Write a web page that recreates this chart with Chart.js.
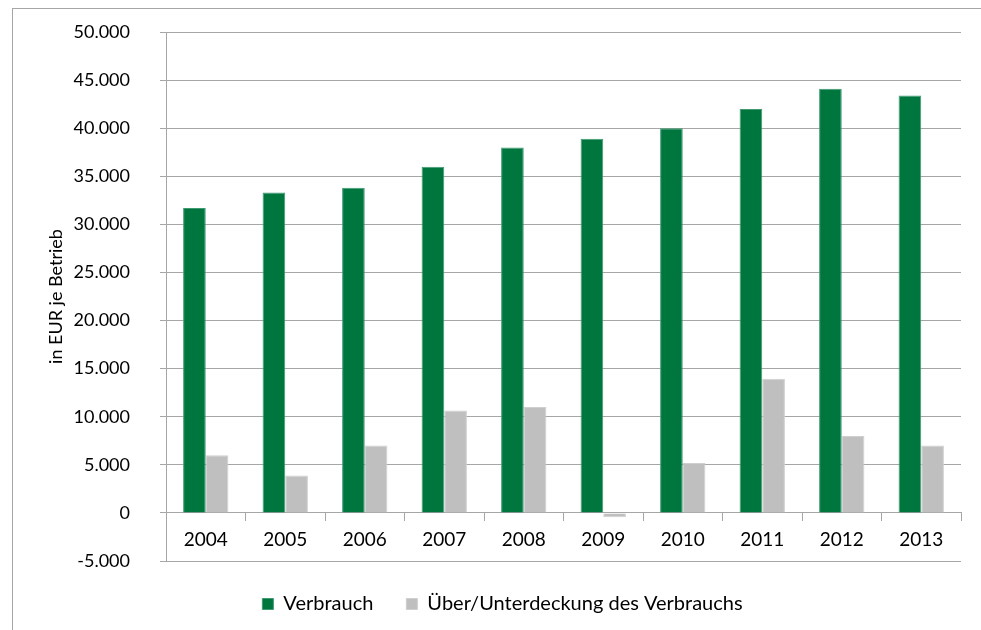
<!DOCTYPE html>
<html>
<head>
<meta charset="utf-8">
<script src="https://cdn.jsdelivr.net/npm/chart.js@4/dist/chart.umd.min.js"></script>
<style>
  body { margin: 0; background: #fff; overflow: hidden; }
  .frame {
    position: absolute; left: 12px; top: 8px;
    width: 1000px; height: 700px;
    border: 1px solid #a6a6a6;
  }
  #chart { position: absolute; left: 0; top: 0; }
</style>
</head>
<body>
<div class="frame"></div>
<canvas id="chart" width="981" height="630"></canvas>
<script>
const years = ['2004', '2005', '2006', '2007', '2008', '2009', '2010', '2011', '2012', '2013']
const verbrauch = [31700, 33300, 33800, 36000, 38000, 38900, 40000, 42000, 44100, 43400]
const deckung = [6000, 3900, 7000, 10650, 11000, -450, 5200, 13950, 8000, 7000]
const yMin = -5000
const yMax = 50000
const yStep = 5000

const gridColor = '#a6a6a6'
const fontFamily = 'Lato, "Liberation Sans", sans-serif'

// German thousands separator: 50.000
function formatTick(value) {
  const s = Math.abs(value).toString().replace(/\B(?=(\d{3})+(?!\d))/g, '.')
  return (value < 0 ? '-' : '') + s
}

Chart.defaults.font.family = fontFamily
Chart.defaults.font.size = 18
Chart.defaults.color = '#000'

const ctx = document.getElementById('chart')
new Chart(ctx, {
  type: 'bar',
  data: {
    labels: years,
    datasets: [{
      label: 'Verbrauch',
      data: verbrauch,
      backgroundColor: '#00763f',
      borderColor: '#3f9a72',
      borderWidth: 1,
      barPercentage: 1,
      categoryPercentage: 0.57
    }, {
      label: 'Über/Unterdeckung des Verbrauchs',
      data: deckung,
      backgroundColor: '#bfbfbf',
      borderColor: '#cfcfcf',
      borderWidth: 1,
      barPercentage: 1,
      categoryPercentage: 0.57
    }]
  },
  options: {
    responsive: false,
    animation: false,
    devicePixelRatio: 1,
    layout: {
      padding: { top: 32, right: 20, bottom: 6, left: 44 }
    },
    plugins: {
      tooltip: { enabled: false },
      legend: {
        position: 'bottom',
        labels: {
          boxWidth: 11,
          boxHeight: 11,
          padding: 33,
          font: { size: 20 }
        }
      }
    },
    scales: {
      x: {
        position: { y: 0 },
        grid: {
          offset: true,
          drawOnChartArea: false,
          drawTicks: true,
          tickLength: 8,
          color: gridColor
        },
        border: { color: gridColor },
        ticks: { padding: 8, font: { size: 19 } }
      },
      y: {
        min: yMin,
        max: yMax,
        afterFit: (scale) => {
          // fixed axis width, and no extra top/bottom room from tick padding
          scale.width = 122
          scale.paddingTop = 0
          scale.paddingBottom = 0
        },
        title: {
          display: true,
          text: 'in EUR je Betrieb',
          font: { size: 18 },
          padding: { top: 1, bottom: 0 }
        },
        grid: {
          color: gridColor,
          drawTicks: true,
          tickLength: 6
        },
        border: { color: gridColor },
        ticks: {
          stepSize: yStep,
          padding: 30,
          font: { size: 18 },
          callback: (value) => formatTick(value)
        }
      }
    }
  }
})
</script>
</body>
</html>
